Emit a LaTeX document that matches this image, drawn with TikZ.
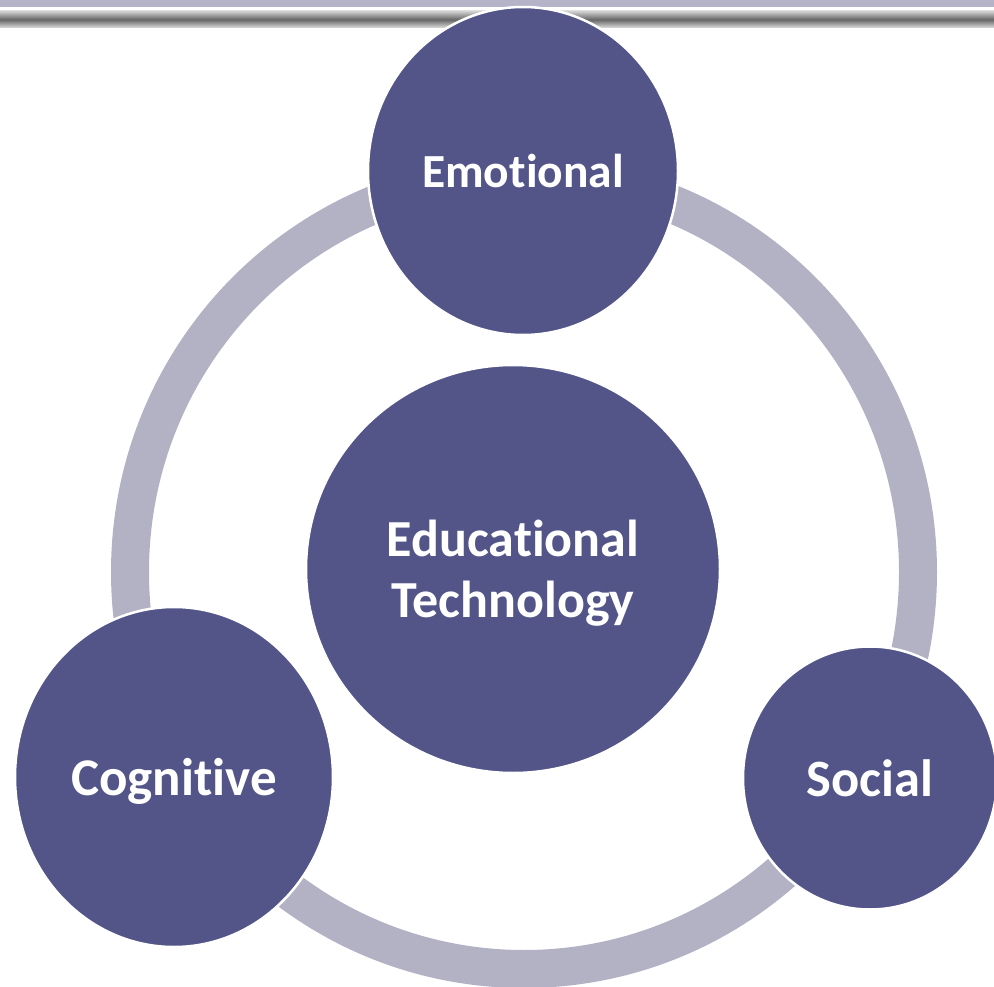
\documentclass[tikz,border=0pt]{standalone}
\usepackage{fontspec}
\setmainfont{Carlito}[Ligatures=NoCommon]
\usepackage{tikz}
\usetikzlibrary{shapes.geometric}
\definecolor{bubblepurple}{HTML}{535589}
\definecolor{ringgray}{HTML}{B3B2C4}
\definecolor{barlilac}{HTML}{B4B3C8}
\tikzstyle{bubble} = [ellipse, inner sep=0pt, fill=bubblepurple, draw=white, line width=2.5pt, text=white, align=center, text depth=0pt]
\tikzstyle{ring} = [line width=38pt, draw=ringgray]

\begin{document}
\begin{tikzpicture}[x=1pt, y=-1pt]
        \useasboundingbox (0,0) rectangle (994,987);
        \clip (0,0) rectangle (994,987);
        % header strips
        \fill [barlilac] (0,0) rectangle (994,7);
        \shade [top color=gray!35, bottom color=gray!25, middle color=black!60] (0,11) rectangle (994,28);

        % ring behind the outer bubbles
        \coordinate (ringcenter) at (524,572);
        \draw [ring] (ringcenter) ellipse [x radius=394, y radius=397];

        \node (hub) [bubble, minimum width=414pt, minimum height=408pt, font=\fontsize{52}{61}\selectfont\bfseries] at (513,569) {Educational\\Technology};
        \node (emotional) [bubble, minimum width=310pt, minimum height=328pt, font=\fontsize{47.5}{56}\selectfont\bfseries] at (523,171) {Emotional};
        \node (cognitive) [bubble, minimum width=318pt, minimum height=340pt, font=\fontsize{53}{62}\selectfont\bfseries] at (174,777) {Cognitive};
        \node (social) [bubble, minimum width=254pt, minimum height=263pt, font=\fontsize{52.5}{62}\selectfont\bfseries] at (870,778) {Social};
    \end{tikzpicture}
\end{document}
